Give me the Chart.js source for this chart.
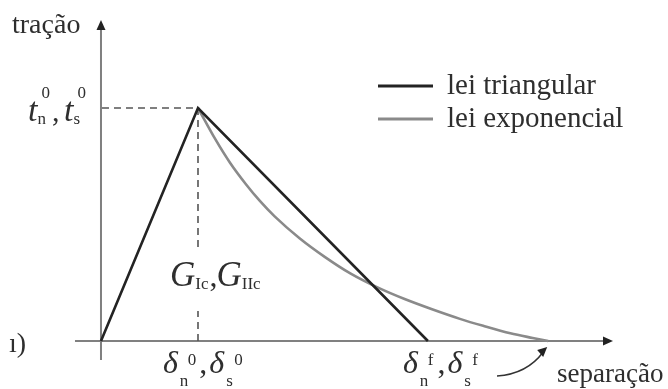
<!DOCTYPE html>
<html>
<head>
<meta charset="utf-8">
<script src="https://cdn.jsdelivr.net/npm/chart.js@4"></script>
<style>
  html, body { margin: 0; padding: 0; background: #fff; }
  #wrap { width: 668px; height: 389px; }
</style>
</head>
<body>
<div id="wrap"><canvas id="c" width="668" height="389"></canvas></div>
<script>
// Bilinear (triangular) traction-separation law
const triSeparation = [0, 1, 3.37];
const triTraction   = [0, 1, 0];

// Exponential softening branch, from the peak until the traction vanishes
const expSeparation = [1.00, 1.18, 1.33, 1.49, 1.64, 1.79, 2.05, 2.31, 2.57, 2.85, 3.13, 3.42, 3.70, 3.94, 4.22, 4.45, 4.61];
const expTraction   = [1.00, 0.865, 0.765, 0.675, 0.60, 0.535, 0.44, 0.36, 0.29, 0.23, 0.18, 0.135, 0.095, 0.065, 0.033, 0.013, 0];

const seriesNames = ['lei triangular', 'lei exponencial'];
const axisTitles  = ['tração', 'separação'];

// Characteristic points on the axes
const onsetSeparation   = 1;     // δ⁰
const failureSeparation = 3.37;  // δᶠ
const onsetTraction     = 1;     // t⁰

const toPoints = (xs, ys) => xs.map((x, i) => ({ x, y: ys[i] }));

const SERIF = '"Liberation Serif", "DejaVu Serif", serif';
const TXT = '#2e2e2e';

// draws  main_sub^sup  and returns the x after it
function symbol(ctx, x, base, main, sub, sup, o) {
  ctx.fillStyle = TXT;
  ctx.textBaseline = 'alphabetic';
  ctx.textAlign = 'left';
  ctx.font = 'italic ' + o.size + 'px ' + SERIF;
  ctx.fillText(main, x, base);
  const w = ctx.measureText(main).width;
  ctx.font = o.small + 'px ' + SERIF;
  ctx.fillText(sub, x + w + o.subDx, base + o.subDy);
  const ws = ctx.measureText(sub).width;
  let end = x + w + o.subDx + ws;
  if (sup) {
    ctx.fillText(sup, x + w + o.supDx, base + o.supDy);
    end = Math.max(end, x + w + o.supDx + ctx.measureText(sup).width);
  }
  return end;
}

function comma(ctx, x, base, size) {
  ctx.font = size + 'px ' + SERIF;
  ctx.fillStyle = TXT;
  ctx.fillText(',', x, base);
}

const decorations = {
  id: 'decorations',
  beforeDatasetsDraw(chart) {
    const { ctx, scales: { x, y } } = chart;
    const x0 = x.getPixelForValue(0), y0 = y.getPixelForValue(0);
    const xd = x.getPixelForValue(onsetSeparation);
    const yt = y.getPixelForValue(onsetTraction);
    ctx.save();
    // axes
    ctx.strokeStyle = '#808080';
    ctx.lineWidth = 2;
    ctx.beginPath();
    ctx.moveTo(x0 - 26, y0); ctx.lineTo(605, y0);
    ctx.moveTo(x0, y0 + 19); ctx.lineTo(x0, 28);
    ctx.stroke();
    ctx.fillStyle = '#222';
    ctx.beginPath();
    ctx.moveTo(613, y0); ctx.lineTo(603, y0 - 4.5); ctx.lineTo(603, y0 + 4.5); ctx.closePath(); ctx.fill();
    ctx.beginPath();
    ctx.moveTo(x0, 20); ctx.lineTo(x0 - 4.5, 30); ctx.lineTo(x0 + 4.5, 30); ctx.closePath(); ctx.fill();
    // guide lines to the peak
    ctx.strokeStyle = '#555';
    ctx.lineWidth = 1.6;
    ctx.setLineDash([7, 5]);
    ctx.beginPath();
    ctx.moveTo(x0 + 1, yt); ctx.lineTo(xd, yt);
    ctx.moveTo(xd, yt); ctx.lineTo(xd, 250);
    ctx.moveTo(xd, y0); ctx.lineTo(xd, 311);
    ctx.stroke();
    ctx.restore();
  },
  afterDatasetsDraw(chart) {
    const { ctx, scales: { x, y } } = chart;
    const xd = x.getPixelForValue(onsetSeparation);
    const xf = x.getPixelForValue(failureSeparation);
    const yt = y.getPixelForValue(onsetTraction);
    ctx.save();
    const ds = chart.data.datasets;

    // axis titles
    ctx.fillStyle = TXT;
    ctx.font = '28px ' + SERIF;
    ctx.textBaseline = 'alphabetic';
    ctx.fillText(axisTitles[0], 12, 33);
    ctx.fillText('ı)', 9, 352);
    ctx.font = '27px ' + SERIF;
    ctx.fillText(axisTitles[1], 557, 382);

    // legend
    const ly = [86, 119];
    ds.forEach((d, i) => {
      ctx.strokeStyle = d.borderColor;
      ctx.lineWidth = 3;
      ctx.beginPath(); ctx.moveTo(378, ly[i]); ctx.lineTo(433, ly[i]); ctx.stroke();
      ctx.fillStyle = TXT;
      ctx.font = '29px ' + SERIF;
      ctx.fillText(d.label, 447, ly[i] + 8);
    });

    // traction label  t_n^0 , t_s^0
    const tOpt = { size: 34, small: 17, subDx: 0, subDy: 3, supDx: 4, supDy: -23 };
    let cx = symbol(ctx, xd - 170, yt + 13, 't', 'n', '0', tOpt);
    comma(ctx, cx + 2, yt + 13, 30);
    symbol(ctx, cx + 14, yt + 13, 't', 's', '0', tOpt);

    // fracture energy  G_Ic , G_IIc
    const gOpt = { size: 35, small: 17, subDx: 0, subDy: 3, supDx: 0, supDy: 0 };
    cx = symbol(ctx, xd - 28, 286, 'G', 'Ic', '', gOpt);
    comma(ctx, cx + 1, 286, 32);
    symbol(ctx, cx + 8, 286, 'G', 'IIc', '', gOpt);

    // separation marks  δ_n^0 , δ_s^0   and   δ_n^f , δ_s^f
    const dOpt = { size: 32, small: 17, subDx: 2, subDy: 13, supDx: 10, supDy: -8 };
    cx = symbol(ctx, xd - 35, 373, 'δ', 'n', '0', dOpt);
    comma(ctx, cx + 3, 373, 32);
    symbol(ctx, cx + 13, 373, 'δ', 's', '0', dOpt);

    cx = symbol(ctx, xf - 25, 373, 'δ', 'n', 'f', dOpt);
    comma(ctx, cx + 4, 373, 32);
    symbol(ctx, cx + 14, 373, 'δ', 's', 'f', dOpt);

    // pointer from the label to where the exponential law vanishes
    const xe = x.getPixelForValue(expSeparation[expSeparation.length - 1]);
    ctx.strokeStyle = '#333';
    ctx.lineWidth = 1.5;
    ctx.beginPath();
    ctx.moveTo(497, 376);
    ctx.quadraticCurveTo(527, 374, xe - 5, 352);
    ctx.stroke();
    ctx.fillStyle = '#222';
    ctx.beginPath();
    ctx.moveTo(xe - 1, 347);
    ctx.lineTo(xe - 11, 350);
    ctx.lineTo(xe - 5, 357);
    ctx.closePath();
    ctx.fill();
    ctx.restore();
  }
};

new Chart(document.getElementById('c'), {
  type: 'scatter',
  data: {
    datasets: [
      {
        label: seriesNames[0],
        data: toPoints(triSeparation, triTraction),
        showLine: true,
        borderColor: '#232323',
        borderWidth: 2.6,
        pointRadius: 0,
        tension: 0
      },
      {
        label: seriesNames[1],
        data: toPoints(expSeparation, expTraction),
        showLine: true,
        borderColor: '#8a8a8a',
        borderWidth: 2.6,
        pointRadius: 0,
        cubicInterpolationMode: 'monotone'
      }
    ]
  },
  options: {
    responsive: false,
    devicePixelRatio: 1,
    animation: false,
    layout: { padding: 0 },
    plugins: { legend: { display: false }, tooltip: { enabled: false } },
    scales: {
      x: { type: 'linear', min: -1.041, max: 5.845, display: false },
      y: { type: 'linear', min: -0.206, max: 1.4635, display: false }
    }
  },
  plugins: [decorations]
});
</script>
</body>
</html>
